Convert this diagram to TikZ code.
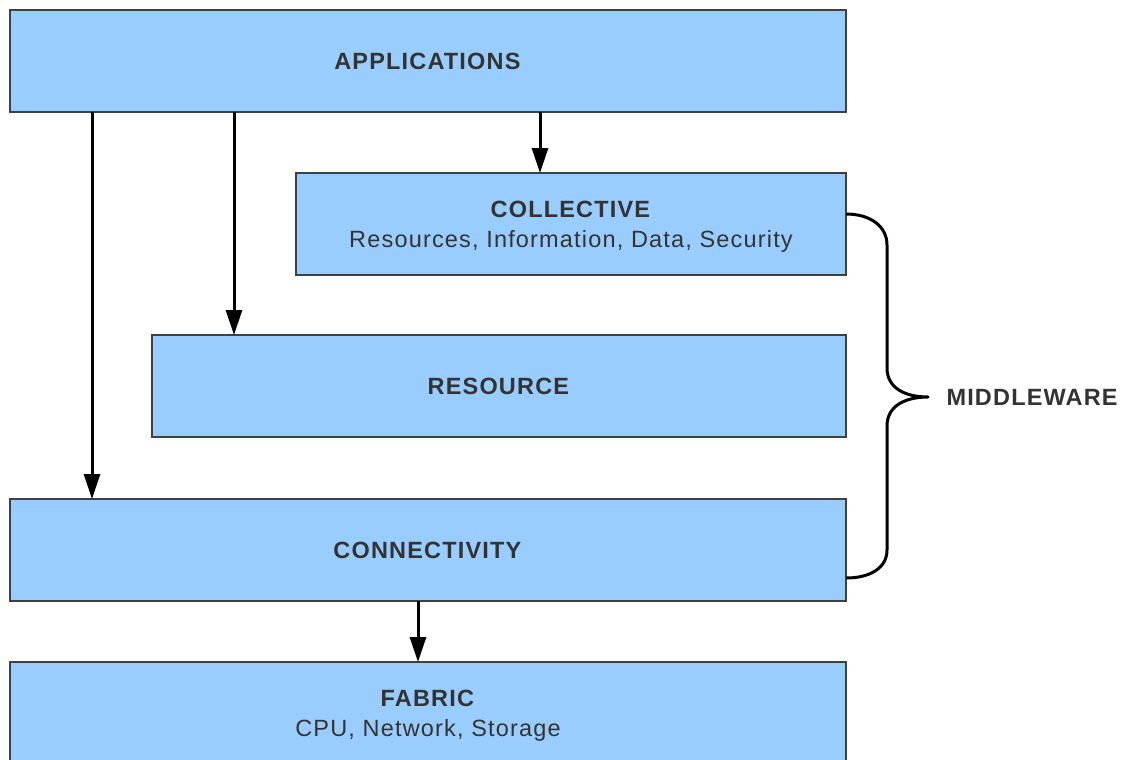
\documentclass[tikz,border=0pt]{standalone}
\usepackage{fontspec}
\setmainfont{Liberation Sans}[LetterSpace=5]
\usetikzlibrary{arrows.meta,calc}
\definecolor{boxfill}{HTML}{99CCFF}
\definecolor{boxline}{HTML}{404040}
\definecolor{txt}{HTML}{333333}
\tikzset{
  layer/.style={draw=boxline, line width=1.3pt, fill=boxfill, inner sep=0pt, outer sep=0pt,
    minimum height=102pt, text=txt, align=center, font=\fontsize{23.5}{30}\selectfont},
  twoline/.style={text=txt, align=center, font=\fontsize{23.5}{30}\selectfont, inner sep=0pt, yshift=-2.5pt},
  arr/.style={line width=3pt, -{Triangle[length=25pt,width=16pt]}},
}
\begin{document}
\begin{tikzpicture}[x=1pt,y=-1pt]
\useasboundingbox (0,0) rectangle (1127,760);
\node[layer, minimum width=836pt, anchor=north west] (app) at (10,10) {\textbf{APPLICATIONS}};
\node[layer, minimum width=550pt, anchor=north west,
  label={[twoline, name=colltext]center:{\textbf{COLLECTIVE}\\Resources, Information, Data, Security}}] (coll) at (296,173) {};
\node[layer, minimum width=694pt, anchor=north west] (res) at (152,335) {\textbf{RESOURCE}};
\node[layer, minimum width=836pt, anchor=north west] (conn) at (10,499) {\textbf{CONNECTIVITY}};
\node[layer, minimum width=836pt, minimum height=102pt, anchor=north west,
  label={[twoline, name=fabtext]center:{\textbf{FABRIC}\\CPU, Network, Storage}}] (fab) at (10,662) {};
\draw[arr] ([xshift=82pt]app.south west) -- ([xshift=82pt]conn.north west);
\draw[arr] ([xshift=224pt]app.south west) -- ([xshift=82pt]res.north west);
\draw[arr] ([xshift=530pt]app.south west) -- ([xshift=244pt]coll.north west);
\draw[arr] ([xshift=408pt]conn.south west) -- ([xshift=408pt]fab.north west);
\coordinate (btop) at (846,214);
\coordinate (bbot) at (846,578);
\coordinate (btip) at (928,397);
\draw[line width=3pt, line join=round]
  (btop) .. controls (870,214) and (887,226) .. (887,245)
  -- (887,368) .. controls (887,388) and (905,397) .. (btip)
  .. controls (905,397) and (887,406) .. (887,426)
  -- (887,550) .. controls (887,568) and (870,578) .. (bbot);
\node[anchor=west, text=txt, font=\fontsize{23.5}{28}\selectfont\bfseries] (mw) at (943,397) {MIDDLEWARE};
\end{tikzpicture}
\end{document}
